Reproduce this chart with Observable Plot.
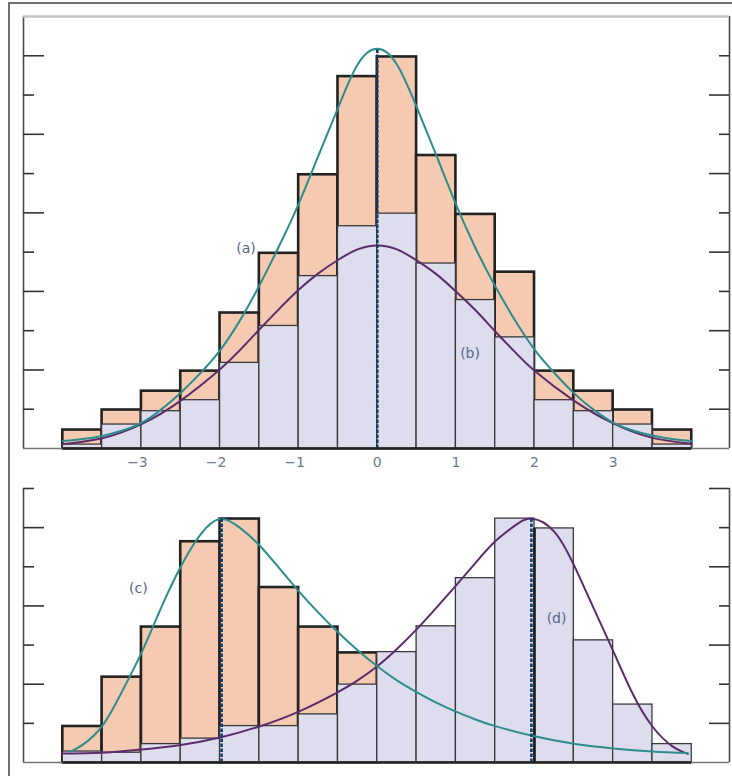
<!DOCTYPE html>
<html><head><meta charset="utf-8">
<script src="https://cdn.jsdelivr.net/npm/d3@7"></script>
<script src="https://cdn.jsdelivr.net/npm/@observablehq/plot@0.6"></script>
<style>
html,body{margin:0;padding:0;background:#fff;}
#wrap{position:relative;width:732px;height:776px;overflow:hidden;}
#border{position:absolute;left:8px;top:2px;width:760px;height:800px;border-left:2px solid #707070;border-top:2px solid #707070;}
#top,#bottom{position:absolute;left:0;}
#top{top:0;} #bottom{top:480px;}
</style></head><body>
<div id="wrap"><div id="border"></div><div id="top"></div><div id="bottom"></div></div>
<script>
// ---- data ----
const binLo = [-4,-3.5,-3,-2.5,-2,-1.5,-1,-0.5,0,0.5,1,1.5,2,2.5,3,3.5];
const binWidth = 0.5;
const topOuter = [0.47,0.98,1.46,1.97,3.45,4.97,6.97,9.47,9.97,7.46,5.96,4.49,1.97,1.46,0.98,0.47];
const topInner = [0.1,0.61,0.95,1.23,2.18,3.12,4.39,5.66,5.98,4.71,3.78,2.83,1.23,0.95,0.61,0.1];
const curveAX = [-4,-3.75,-3.5,-3.25,-3,-2.75,-2.5,-2.25,-2,-1.75,-1.5,-1.25,-1,-0.75,-0.5,-0.25,0,0.25,0.5,0.75,1,1.25,1.5,1.75,2,2.25,2.5,2.75,3,3.25,3.5,3.75,4];
const curveAY = [0.19,0.24,0.32,0.45,0.65,0.99,1.42,1.92,2.5,3.25,4.15,5.15,6.23,7.45,8.67,9.78,10.18,9.78,8.7,7.47,6.22,5.1,4.13,3.27,2.52,1.93,1.41,0.99,0.66,0.46,0.33,0.24,0.19];
const curveBX = [-4,-3.5,-3,-2.5,-2,-1.75,-1.5,-1.25,-1,-0.75,-0.5,-0.25,0,0.25,0.5,0.75,1,1.25,1.5,1.75,2,2.5,3,3.5,4];
const curveBY = [0.11,0.26,0.62,1.22,2.02,2.5,3.03,3.55,4.04,4.46,4.8,5.07,5.17,5.07,4.79,4.44,4.0,3.52,2.98,2.46,1.98,1.22,0.64,0.27,0.12];
const botC = [0.92,2.18,3.46,5.64,6.22,4.47,3.46,2.8];
const botD = [0.28,0.25,0.47,0.61,0.93,0.93,1.23,1.99,2.82,3.48,4.71,6.23,5.98,3.12,1.48,0.47];
const curveCX = [-3.9,-3.75,-3.5,-3.25,-3,-2.75,-2.5,-2.25,-2,-1.75,-1.5,-1.25,-1,-0.75,-0.5,-0.25,0,0.25,0.5,0.75,1,1.25,1.5,2,2.5,3,3.5,3.95];
const curveCY = [0.28,0.45,0.93,1.8,2.8,3.95,5.0,5.82,6.22,6.0,5.55,4.97,4.38,3.83,3.33,2.87,2.46,2.1,1.8,1.53,1.3,1.1,0.93,0.67,0.48,0.36,0.28,0.24];
const curveDX = [-4,-3.5,-3,-2.5,-2,-1.5,-1,-0.5,-0.25,0,0.25,0.5,0.75,1,1.25,1.5,1.75,1.97,2.25,2.5,2.75,3,3.25,3.5,3.75,3.95];
const curveDY = [0.23,0.25,0.33,0.45,0.64,0.92,1.3,1.8,2.1,2.46,2.9,3.4,3.95,4.52,5.1,5.65,6.05,6.23,5.9,5.05,3.95,2.85,1.75,0.92,0.42,0.22];
const modeTopX = [0], modeTopY = [10.18];
const modeBotX = [-1.98, 1.96], modeBotY = [6.22, 6.23];
const edgeBotX = [2], edgeBotY = [5.98];
const xTicks = [-3,-2,-1,0,1,2,3];
const topLabelText = ["(a)","(b)"], topLabelX = [-1.67, 1.18], topLabelY = [5.1, 2.43];
const botLabelText = ["(c)","(d)"], botLabelX = [-3.04, 2.28], botLabelY = [4.44, 3.67];
const topYMax = 11, botYMax = 7;
const topLeftLong = [2,4,6,8,10], topLeftShort = [1,3,5,7,9];
const topRightLong = [1,3,5,7,9], topRightShort = [2,4,6,8,10];
const botLeftLong = [2,4,6], botLeftShort = [1,3,5,7];
const botRightLong = [1,3,5,7], botRightShort = [2,4,6];

// ---- styles ----
const PEACH = "#f6cab1", LAV = "#dedded", TEAL = "#2b8d8c", PURPLE = "#5a2c6c", NAVY = "#123c66";
const FRAME = "#4a4a4a", LABEL = "#54688a", TICKLAB = "#6d7b93";
const FONT = "DejaVu Sans";
const xDomain = [-4.5, 4.48];
const W = 732, ML = 23, MR = 3, FW = W - ML - MR;

const bins = binLo.map((lo, i) => ({lo, hi: lo + binWidth, outer: topOuter[i], inner: topInner[i]}));
const binsC = botC.map((v, i) => ({lo: binLo[i], hi: binLo[i] + binWidth, v}));
const binsD = botD.map((v, i) => ({lo: binLo[i], hi: binLo[i] + binWidth, v}));
const pts = (xs, ys) => xs.map((x, i) => ({x, y: ys[i]}));
const fmt = d => d < 0 ? "\u2212" + Math.abs(d) : String(d);
const xMin = binLo[0], xMax = binLo[binLo.length - 1] + binWidth;

function ticks(L, S, RL, RS) {
  return [
    Plot.ruleY(L, {y: d => d, stroke: "#333", strokeWidth: 1.6, insetRight: FW - 21}),
    Plot.ruleY(S, {y: d => d, stroke: "#333", strokeWidth: 1.6, insetRight: FW - 11}),
    Plot.ruleY(RL, {y: d => d, stroke: "#333", strokeWidth: 1.6, insetLeft: FW - 20}),
    Plot.ruleY(RS, {y: d => d, stroke: "#333", strokeWidth: 1.6, insetLeft: FW - 10})
  ];
}
const dashStyle = {stroke: NAVY, strokeWidth: 2.6, strokeDasharray: "3.5,1.5"};

const topPlot = Plot.plot({
  width: W, height: 480, marginTop: 16, marginBottom: 32, marginLeft: ML, marginRight: MR,
  x: {domain: xDomain, axis: null},
  y: {domain: [0, topYMax], axis: null},
  style: {background: "transparent", overflow: "visible", fontFamily: FONT},
  marks: [
    Plot.rect(bins, {x1: "lo", x2: "hi", y1: d => 0, y2: "outer", fill: PEACH, stroke: "#222", strokeWidth: 2.6}),
    Plot.rect(bins, {x1: "lo", x2: "hi", y1: d => 0, y2: "inner", fill: LAV, stroke: "#3a3a3a", strokeWidth: 1.3}),
    Plot.line(pts(curveBX, curveBY), {x: "x", y: "y", stroke: PURPLE, strokeWidth: 2, curve: "natural"}),
    Plot.line(pts(curveAX, curveAY), {x: "x", y: "y", stroke: TEAL, strokeWidth: 2, curve: "natural"}),
    Plot.ruleX(pts(modeTopX, modeTopY), {x: "x", y1: d => 0, y2: "y", ...dashStyle}),
    Plot.ruleX(xDomain, {stroke: FRAME, strokeWidth: 1.6}),
    Plot.ruleY([0], {stroke: "#777", strokeWidth: 1.4}),
    Plot.ruleY([0], {x1: xMin, x2: xMax, stroke: "#222", strokeWidth: 2.6}),
    Plot.ruleY([topYMax], {stroke: "#c4c4c4", strokeWidth: 2.4}),
    ...ticks(topLeftLong, topLeftShort, topRightLong, topRightShort),
    Plot.text(xTicks.filter(d => d < 0), {x: d => d, frameAnchor: "bottom", dy: 18, dx: -4, text: fmt, fill: TICKLAB, fontSize: 14, fontFamily: FONT}),
    Plot.text(xTicks.filter(d => d >= 0), {x: d => d, frameAnchor: "bottom", dy: 18, text: fmt, fill: TICKLAB, fontSize: 14, fontFamily: FONT}),
    Plot.text(topLabelText, {x: (d, i) => topLabelX[i], y: (d, i) => topLabelY[i], text: d => d, fill: LABEL, fontSize: 14, fontFamily: FONT})
  ]
});
document.getElementById("top").appendChild(topPlot);

const botPlot = Plot.plot({
  width: W, height: 296, marginTop: 8, marginBottom: 14, marginLeft: ML, marginRight: MR,
  x: {domain: xDomain, axis: null},
  y: {domain: [0, botYMax], axis: null},
  style: {background: "transparent", overflow: "visible", fontFamily: FONT},
  marks: [
    Plot.rect(binsC, {x1: "lo", x2: "hi", y1: d => 0, y2: "v", fill: PEACH, stroke: "#222", strokeWidth: 2.6}),
    Plot.rect(binsD, {x1: "lo", x2: "hi", y1: d => 0, y2: "v", fill: LAV, stroke: "#3a3a3a", strokeWidth: 1.3}),
    Plot.ruleX(pts(edgeBotX, edgeBotY), {x: "x", y1: d => 0, y2: "y", stroke: "#1e1e1e", strokeWidth: 2.6}),
    Plot.line(pts(curveDX, curveDY), {x: "x", y: "y", stroke: PURPLE, strokeWidth: 2, curve: "natural"}),
    Plot.line(pts(curveCX, curveCY), {x: "x", y: "y", stroke: TEAL, strokeWidth: 2, curve: "natural"}),
    Plot.ruleX(pts(modeBotX, modeBotY), {x: "x", y1: d => 0, y2: "y", ...dashStyle}),
    Plot.ruleX(xDomain, {stroke: FRAME, strokeWidth: 1.6}),
    Plot.ruleY([0], {stroke: "#777", strokeWidth: 1.4}),
    Plot.ruleY([0], {x1: xMin, x2: xMax, stroke: "#222", strokeWidth: 2.6}),
    ...ticks(botLeftLong, botLeftShort, botRightLong, botRightShort),
    Plot.text(botLabelText, {x: (d, i) => botLabelX[i], y: (d, i) => botLabelY[i], text: d => d, fill: LABEL, fontSize: 14, fontFamily: FONT})
  ]
});
document.getElementById("bottom").appendChild(botPlot);
</script>
</body></html>
